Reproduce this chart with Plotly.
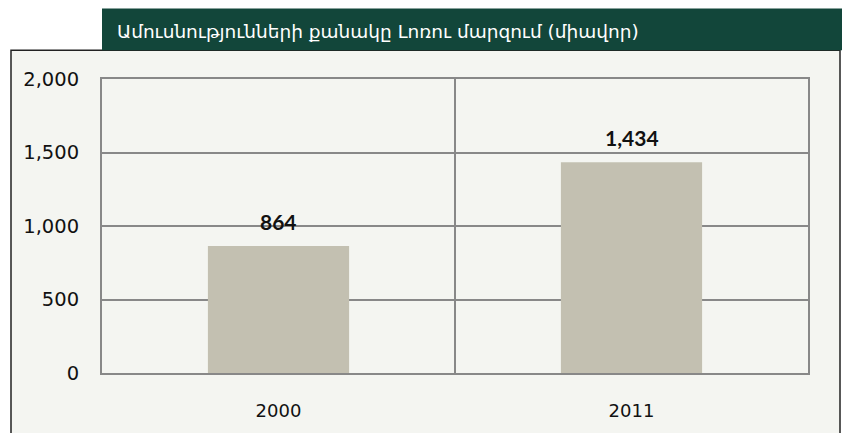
import plotly.graph_objects as go

categories = ["2000", "2011"]
values = [864, 1434]
value_labels = ["864", "1,434"]
y_ticks = [0, 500, 1000, 1500, 2000]
y_tick_labels = ["0", "500", "1,000", "1,500", "2,000"]
title_text = "Ամուսնությունների քանակը Լոռու մարզում (միավոր)"

W, H = 842, 433
L, R, T, B = 102, 34, 79, 58
PW, PH = W - L - R, H - T - B

def px(x):
    return (x - L) / PW

def py(y):
    return (H - B - y) / PH

BG = "#f4f5f1"
GREEN = "#12463a"
GRID = "#888888"
BAR = "#c3c0b1"
NUMFONT = "Lato, Open Sans, sans-serif"
TICKFONT = "DejaVu Sans, sans-serif"

fig = go.Figure()
fig.add_trace(go.Bar(
    x=categories, y=values, marker=dict(color=BAR, line=dict(width=0)),
    hoverinfo="skip",
))

for i, (v, t) in enumerate(zip(values, value_labels)):
    fig.add_annotation(x=i, y=v, xref="x", yref="y", text="<b>%s</b>" % t,
                       showarrow=False, yanchor="bottom", yshift=10,
                       font=dict(family=NUMFONT, size=21, color="#111"))

fig.add_annotation(x=px(115), y=py(31), xref="paper", yref="paper",
                   text=title_text, showarrow=False, xanchor="left", yanchor="middle",
                   font=dict(family="DejaVu Sans, Noto Sans, sans-serif", size=18.5, color="white"))

fig.update_layout(
    width=W, height=H,
    margin=dict(l=L, r=R, t=T, b=B, pad=0),
    paper_bgcolor="white", plot_bgcolor=BG,
    showlegend=False, bargap=0.6,
    shapes=[
        dict(type="rect", xref="paper", yref="paper", layer="below",
             x0=px(11), x1=px(840), y0=py(445), y1=py(50),
             fillcolor=BG, line=dict(color="#222", width=1.5)),
        dict(type="rect", xref="paper", yref="paper", layer="above",
             x0=px(102), x1=px(845), y0=py(50), y1=py(8),
             fillcolor=GREEN, line=dict(width=0)),
    ],
    xaxis=dict(type="category", categoryorder="array", categoryarray=categories,
               range=[-0.5, len(categories) - 0.5],
               tickson="boundaries", showgrid=True,
               gridcolor=GRID, gridwidth=1.5, ticks="", showline=True,
               linecolor=GRID, linewidth=2, mirror=True,
               tickfont=dict(family=TICKFONT, size=18, color="#111"),
               ticklabelstandoff=20),
    yaxis=dict(range=[0, 2000], tickvals=y_ticks, ticktext=y_tick_labels,
               showgrid=True, gridcolor=GRID, gridwidth=1.5, zeroline=False,
               showline=True, linecolor=GRID, linewidth=2, mirror=True,
               ticks="", tickfont=dict(family=TICKFONT, size=19.5, color="#111"),
               ticklabelstandoff=17),
)

fig.write_html("out.html", config={"displayModeBar": False},
               post_script="document.body.style.margin='0px';")
